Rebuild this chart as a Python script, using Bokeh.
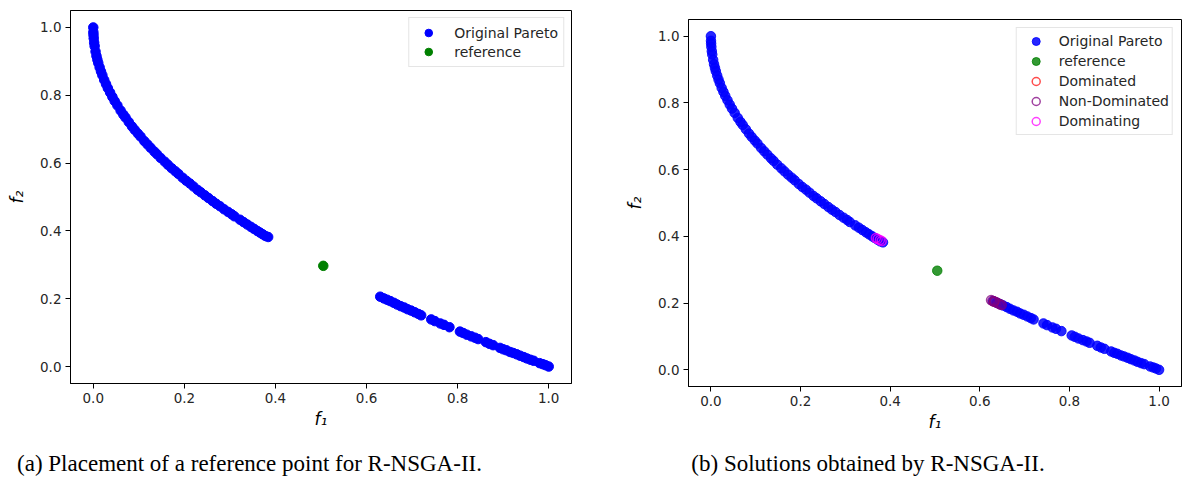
from bokeh.plotting import figure
from bokeh.models import (Range1d, FixedTicker, PrintfTickFormatter, Legend,
                          LegendItem, ColumnDataSource)
from bokeh.layouts import column, row
from bokeh.core.properties import value
from bokeh.embed import file_html
from bokeh.resources import INLINE

# ---------------- data ----------------
pareto_f1 = [0.000, 0.0002, 0.0005, 0.001, 0.002, 0.003, 0.005, 0.007, 0.009, 0.011,
             0.014, 0.017,
             0.020, 0.024, 0.028, 0.032, 0.037, 0.042, 0.047, 0.053, 0.060, 0.066,
             0.071, 0.078, 0.085, 0.091, 0.098, 0.104, 0.112, 0.119, 0.126, 0.134,
             0.140, 0.148, 0.157, 0.164, 0.172, 0.180, 0.187, 0.196, 0.204, 0.212,
             0.220, 0.229, 0.236, 0.245, 0.253, 0.262, 0.270, 0.278, 0.287, 0.296,
             0.304, 0.310, 0.322, 0.330, 0.338, 0.346, 0.353, 0.360, 0.366, 0.372,
             0.378, 0.384,
             0.630, 0.638, 0.645, 0.652, 0.660, 0.667, 0.675, 0.683, 0.690, 0.698,
             0.706, 0.714, 0.720, 0.742, 0.750, 0.762, 0.770, 0.782, 0.805, 0.812,
             0.820, 0.830, 0.838, 0.845, 0.862, 0.870, 0.878, 0.893, 0.900, 0.907,
             0.915, 0.922, 0.930, 0.937, 0.945, 0.952, 0.960, 0.967, 0.980, 0.987,
             0.993, 1.000]
pareto_f2 = [1.000, 0.986, 0.978, 0.968, 0.955, 0.945, 0.929, 0.916, 0.905, 0.895,
             0.882, 0.870,
             0.859, 0.845, 0.833, 0.821, 0.808, 0.795, 0.783, 0.770, 0.755, 0.743,
             0.734, 0.721, 0.708, 0.698, 0.687, 0.678, 0.665, 0.655, 0.645, 0.634,
             0.626, 0.615, 0.604, 0.595, 0.585, 0.576, 0.568, 0.557, 0.548, 0.540,
             0.531, 0.521, 0.514, 0.505, 0.497, 0.488, 0.480, 0.473, 0.464, 0.456,
             0.449, 0.443, 0.433, 0.426, 0.419, 0.412, 0.406, 0.400, 0.395, 0.390,
             0.385, 0.382,
             0.206, 0.201, 0.197, 0.193, 0.188, 0.183, 0.178, 0.174, 0.169, 0.165,
             0.160, 0.155, 0.151, 0.139, 0.134, 0.127, 0.123, 0.116, 0.103, 0.099,
             0.094, 0.089, 0.085, 0.081, 0.072, 0.067, 0.063, 0.055, 0.051, 0.048,
             0.043, 0.040, 0.036, 0.032, 0.028, 0.024, 0.020, 0.017, 0.010, 0.007,
             0.004, 0.000]

ref_f1 = [0.505]
ref_f2 = [0.297]

dominated_f1 = [0.632]
dominated_f2 = [0.205]

nondom_f1 = [0.625, 0.628, 0.631, 0.634, 0.637, 0.640, 0.643, 0.646, 0.649]
nondom_f2 = [0.209, 0.207, 0.205, 0.204, 0.202, 0.200, 0.198, 0.196, 0.194]

dominating_f1 = [0.368, 0.372, 0.377, 0.381]
dominating_f2 = [0.395, 0.392, 0.389, 0.386]

TICKS = [0.0, 0.2, 0.4, 0.6, 0.8, 1.0]
CAPTIONS = ["(a) Placement of a reference point for R-NSGA-II.",
            "(b) Solutions obtained by R-NSGA-II."]

TICK_FONT = "DejaVu Sans"
TICK_SIZE = "13.5px"
LEG_SIZE = "14px"
TXT = "#262626"


def make_fig(width, height, bl, br, bt, bb):
    p = figure(width=width, height=height, title=None,
               x_range=Range1d(-0.05, 1.05), y_range=Range1d(-0.05, 1.05),
               output_backend="svg", toolbar_location=None,
               min_border_left=bl, min_border_right=br,
               min_border_top=bt, min_border_bottom=bb)
    p.xgrid.visible = False
    p.ygrid.visible = False
    p.outline_line_color = "black"
    p.outline_line_width = 1
    p.outline_line_alpha = 1
    for ax in (p.xaxis[0], p.yaxis[0]):
        ax.ticker = FixedTicker(ticks=TICKS)
        ax.formatter = PrintfTickFormatter(format="%.1f")
        ax.major_tick_out = 5
        ax.major_tick_in = 0
        ax.minor_tick_out = 0
        ax.minor_tick_in = 0
        ax.axis_line_color = "black"
        ax.major_tick_line_color = "black"
        ax.major_label_text_font = TICK_FONT
        ax.major_label_text_font_size = TICK_SIZE
        ax.major_label_text_color = TXT
        ax.major_label_standoff = 4
        ax.axis_label_text_font = "DejaVu Sans"
        ax.axis_label_text_font_style = "italic"
        ax.axis_label_text_font_size = "17px"
        ax.axis_label_text_color = "black"
    p.xaxis[0].axis_label = "f\u2081"
    p.yaxis[0].axis_label = "f\u2082"
    p.xaxis[0].axis_label_standoff = 3
    p.yaxis[0].axis_label_standoff = 10
    return p


def style_legend(leg, padding, lh, sp, gw, so, margin):
    leg.location = "top_right"
    leg.border_line_color = "#cccccc"
    leg.border_line_width = 1
    leg.background_fill_alpha = 0.8
    leg.label_text_font = TICK_FONT
    leg.label_text_font_size = LEG_SIZE
    leg.label_text_color = TXT
    leg.padding = padding
    leg.label_height = lh
    leg.glyph_height = lh
    leg.glyph_width = gw
    leg.spacing = sp
    leg.label_standoff = so
    leg.margin = margin


# ---------------- left panel ----------------
p1 = make_fig(600, 440, 70, 29, 10, 57)
src_p = ColumnDataSource(dict(x=pareto_f1, y=pareto_f2))
r_p1 = p1.scatter("x", "y", source=src_p, size=9.5, color="blue")
r_r1 = p1.scatter(ref_f1, ref_f2, size=9.5, color="green")
leg1 = Legend(items=[LegendItem(label="Original Pareto", renderers=[r_p1]),
                     LegendItem(label="reference", renderers=[r_r1])])
style_legend(leg1, 5, 19, 0, 28, 12, 7)
p1.add_layout(leg1)

# ---------------- right panel ----------------
p2 = make_fig(591, 440, 88, 10, 19, 54)
r_p2 = p2.scatter(pareto_f1, pareto_f2, size=9.5, color="blue", alpha=0.85)
r_r2 = p2.scatter(ref_f1, ref_f2, size=9.5, color="green", alpha=0.8)
r_d2 = p2.scatter(dominated_f1, dominated_f2, size=9, fill_color=None,
                  line_color="red", line_alpha=0.7, line_width=1.5)
r_n2 = p2.scatter(nondom_f1, nondom_f2, size=9, fill_color=None,
                  line_color="purple", line_alpha=0.75, line_width=1.5)
r_g2 = p2.scatter(dominating_f1, dominating_f2, size=9, fill_color=None,
                  line_color="magenta", line_alpha=0.75, line_width=1.5)
leg2 = Legend(items=[LegendItem(label="Original Pareto", renderers=[r_p2]),
                     LegendItem(label="reference", renderers=[r_r2]),
                     LegendItem(label="Dominated", renderers=[r_d2]),
                     LegendItem(label="Non-Dominated", renderers=[r_n2]),
                     LegendItem(label="Dominating", renderers=[r_g2])])
style_legend(leg2, 3, 20, 0, 32, 7, 8)
p2.add_layout(leg2)

# ---------------- captions ----------------
cap = figure(width=1191, height=47, x_range=Range1d(0, 1191), y_range=Range1d(0, 47),
             output_backend="svg", toolbar_location=None, min_border=0, title=None)
cap.axis.visible = False
cap.xgrid.visible = False
cap.ygrid.visible = False
cap.outline_line_color = None
cap.text(x=[249, 867.5], y=[24.5, 24.5], text=CAPTIONS, text_align="center",
         text_baseline="middle", text_font=value("Liberation Serif"),
         text_font_size="23px", text_color="black")

layout = column(row(column(p1), column(p2)), cap)
open("out.html", "w").write(file_html(layout, INLINE))
